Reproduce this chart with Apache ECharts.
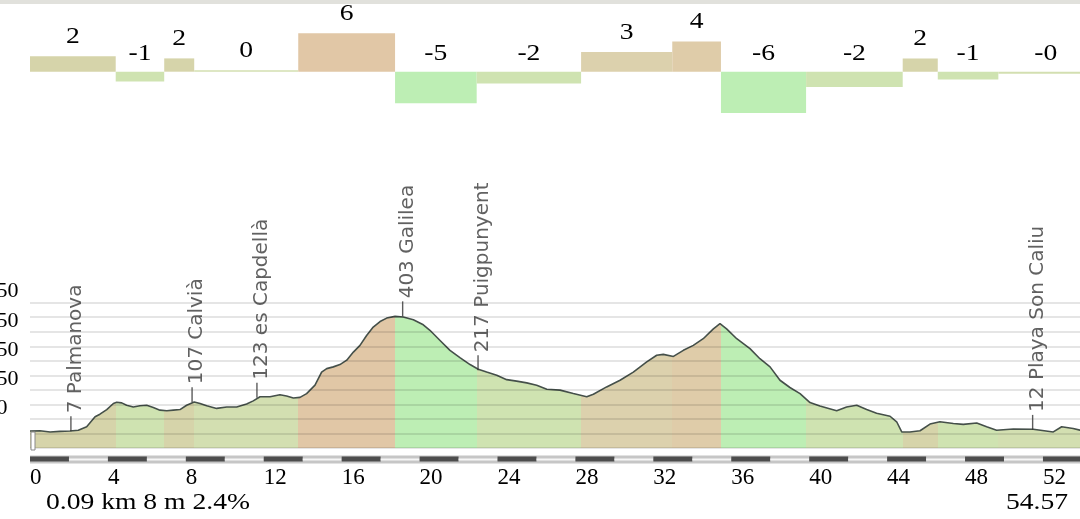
<!DOCTYPE html>
<html>
<head>
<meta charset="utf-8">
<script src="https://cdn.jsdelivr.net/npm/echarts@6/dist/echarts.min.js"></script>
<style>
  html, body { margin: 0; padding: 0; background: #fff; }
  #chart { width: 1080px; height: 519px; }
</style>
</head>
<body>
<div id="chart"></div>
<script>
// profile: distance (km) and elevation (m)
const dist = [0, 0.51, 1.03, 1.54, 2.05, 2.48, 2.91, 3.34, 3.59, 3.94, 4.28, 4.45, 4.71, 4.96, 5.30, 5.65, 5.99, 6.33, 6.67, 7.02,
  7.36, 7.70, 8.04, 8.43, 8.73, 9.07, 9.58, 10.10, 10.61, 11.12, 11.46, 11.81, 12.32, 12.83, 13.17, 13.52, 13.86, 14.20, 14.63, 14.97,
  15.23, 15.57, 15.91, 16.26, 16.60, 16.94, 17.28, 17.62, 17.97, 18.31, 18.74, 19.16, 19.68, 20.19, 20.53, 21.05, 21.56, 22.07, 22.59, 23.01,
  23.44, 23.96, 24.47, 24.98, 25.50, 26.01, 26.53, 27.21, 27.89, 28.58, 28.92, 29.60, 30.29, 30.97, 31.66, 32.17, 32.51, 33.03, 33.54, 34.05,
  34.56, 35.08, 35.42, 35.76, 36.28, 36.96, 37.47, 37.99, 38.50, 39.01, 39.53, 40.04, 40.55, 41.41, 41.92, 42.44, 42.95, 43.46, 44.15, 44.49,
  44.75, 45.17, 45.69, 46.20, 46.71, 47.40, 47.91, 48.60, 49.11, 49.62, 50.48, 51.50, 52.53, 52.96, 53.55, 53.90, 54.57];
const elev = [8, 9, 5, 7, 8, 11, 23, 57, 66, 82, 103, 107, 105, 97, 91, 95, 97, 89, 80, 78,
  80, 82, 97, 108, 103, 95, 86, 91, 91, 101, 112, 126, 126, 133, 129, 122, 124, 137, 166, 211,
  223, 229, 237, 252, 280, 303, 337, 366, 385, 397, 403, 401, 391, 374, 355, 320, 286, 261, 237, 221,
  211, 200, 185, 180, 174, 166, 152, 149, 137, 126, 135, 160, 183, 211, 246, 269, 272, 265, 286, 303,
  326, 360, 378, 360, 326, 292, 257, 229, 183, 158, 137, 106, 94, 78, 91, 97, 82, 69, 59, 40,
  5, 5, 9, 32, 40, 34, 31, 36, 23, 11, 15, 14, 5, 23, 17, 11, 9];

// gradient sections (km boundaries), slope in % and the printed labels
const segBounds = [0, 4.40, 6.89, 8.43, 13.77, 18.74, 22.93, 28.29, 32.97, 35.47, 39.84, 44.80, 46.60, 49.71, 54.57];
const grades = [2.2, -1.4, 1.9, 0.2, 5.5, -4.5, -1.7, 2.8, 4.3, -5.9, -2.2, 1.9, -1.1, -0.3];
const gradeLabels = ['2', '-1', '2', '0', '6', '-5', '-2', '3', '4', '-6', '-2', '2', '-1', '-0'];

// named places along the route
const placeKm = [2.10, 8.32, 11.65, 19.13, 23.0, 51.47];
const placeElev = [7, 107, 123, 403, 217, 12];
const placeNames = ['Palmanova', 'Calvià', 'es Capdellà', 'Galilea', 'Puigpunyent', 'Playa Son Caliu'];

// distance scale bar (2 km blocks)
const scaleStarts = [0, 2, 4, 6, 8, 10, 12, 14, 16, 18, 20, 22, 24, 26, 28, 30, 32, 34, 36, 38, 40, 42, 44, 46, 48, 50, 52, 54];
const scaleStep = 2;

const totalKm = 54.57;
const cursorText = '0.09 km 8 m 2.4%';

const LEFT = 30;
const PX_PER_KM = 19.48;
const WIDTH = totalKm * PX_PER_KM;
const serif = '"Liberation Serif", "Times New Roman", serif';

function gradeColor(g) {
  if (g <= -4) return '#bdeeb4';
  if (g <= -0.5) return '#cfe3b1';
  if (g < 0.5) return '#d3dfb1';
  if (g < 2.5) return '#d6d4aa';
  if (g < 4) return '#dcd1ad';
  if (g < 5) return '#dfcca9';
  return '#e1c7a6';
}

const segData = grades.map((g, i) => [segBounds[i], segBounds[i + 1], g]);
const pieces = grades.map((g, i) => {
  const p = { gte: segBounds[i], color: gradeColor(g) };
  if (i === grades.length - 1) p.lte = segBounds[i + 1];
  else p.lt = segBounds[i + 1];
  return p;
});

const chart = echarts.init(document.getElementById('chart'));

chart.setOption({
  animation: false,
  grid: [
    { left: LEFT, top: 22.7, width: WIDTH, height: 98, outerBoundsMode: 'none' },
    { left: LEFT, top: 302.7, width: WIDTH, height: 145.2, outerBoundsMode: 'none' },
    { left: LEFT, top: 455.5, width: WIDTH, height: 8, outerBoundsMode: 'none', show: true, backgroundColor: '#c6c6c6', borderWidth: 0 },
  ],
  xAxis: [
    { gridIndex: 0, type: 'value', min: 0, max: totalKm, show: false },
    { gridIndex: 1, type: 'value', min: 0, max: totalKm, show: false },
    {
      gridIndex: 2, type: 'value', min: 0, max: totalKm, interval: 4,
      axisLine: { show: false }, axisTick: { show: false }, splitLine: { show: false },
      axisLabel: {
        color: '#000', fontFamily: serif, fontSize: 23, align: 'left', verticalAlign: 'top', margin: 3,
        showMaxLabel: false,
      },
    },
  ],
  yAxis: [
    { gridIndex: 0, type: 'value', min: -7, max: 7, show: false },
    {
      gridIndex: 1, type: 'value', min: -50, max: 450, interval: 50, z: 3,
      axisLine: { show: false }, axisTick: { show: false },
      splitLine: { lineStyle: { color: 'rgba(0,0,0,0.1)', width: 2 } },
      axisLabel: {
        color: '#000', fontFamily: serif, fontSize: 22, align: 'left', verticalAlign: 'bottom', margin: 44.5,
        formatter: (v) => (v > 0 && v % 100 === 50 ? String(v) : ''),
      },
    },
    { gridIndex: 2, type: 'value', min: 0, max: 1, show: false },
  ],
  visualMap: {
    type: 'piecewise', show: false, seriesIndex: 1, dimension: 0, pieces: pieces,
  },
  series: [
    {
      type: 'custom',
      xAxisIndex: 0, yAxisIndex: 0,
      data: segData,
      encode: { x: [0, 1], y: 2 },
      renderItem: (params, api) => {
        const g = api.value(2);
        const p0 = api.coord([api.value(0), 0]);
        const p1 = api.coord([api.value(1), g]);
        const top = Math.min(p0[1], p1[1]);
        const h = Math.max(Math.abs(p1[1] - p0[1]), 1);
        const ly = g > 0 ? p1[1] - 8 : p0[1] - 6.7;
        return {
          type: 'group',
          children: [
            { type: 'rect', shape: { x: p0[0], y: top, width: p1[0] - p0[0], height: h }, style: { fill: gradeColor(g) } },
            {
              type: 'text', x: (p0[0] + p1[0]) / 2, y: ly, scaleX: 1.2,
              style: { text: gradeLabels[params.dataIndex], fill: '#000', font: '23px ' + serif, align: 'center', verticalAlign: 'bottom' },
            },
          ],
        };
      },
    },
    {
      type: 'line',
      xAxisIndex: 1, yAxisIndex: 1,
      data: dist.map((d, i) => [d, elev[i]]),
      showSymbol: false,
      lineStyle: { color: '#45504a', width: 1.6 },
      areaStyle: { opacity: 1, origin: 'start' },
      z: 2,
    },
    {
      type: 'scatter',
      xAxisIndex: 1, yAxisIndex: 1,
      data: placeKm.map((k, i) => [k, placeElev[i]]),
      symbol: 'rect',
      symbolSize: [1.4, 15],
      symbolOffset: [0, -7.5],
      itemStyle: { color: '#333' },
      z: 5,
      label: {
        show: true, position: 'top', distance: 3, rotate: 90,
        align: 'left', verticalAlign: 'middle', offset: [0, 5],
        fontFamily: '"DejaVu Sans", sans-serif', fontSize: 20, color: '#3a3a3a',
        formatter: (p) => placeElev[p.dataIndex] + ' ' + placeNames[p.dataIndex],
      },
    },
    {
      type: 'custom',
      xAxisIndex: 2, yAxisIndex: 2,
      data: scaleStarts.map((s) => [s, s + scaleStep]),
      encode: { x: [0, 1] },
      renderItem: (params, api) => {
        const a = api.coord([api.value(0), 1]);
        const b = api.coord([api.value(1), 0]);
        const dark = params.dataIndex % 2 === 0;
        return dark
          ? { type: 'rect', shape: { x: a[0], y: a[1] + 1, width: b[0] - a[0], height: 5 }, style: { fill: '#4d4d4d' } }
          : { type: 'rect', shape: { x: a[0], y: a[1] + 3, width: b[0] - a[0], height: 2 }, style: { fill: '#f6f6f6' } };
      },
    },
  ],
  graphic: [
    { type: 'rect', left: 0, top: 0, shape: { width: 1080, height: 4 }, style: { fill: '#e1e1dc' } },
    { type: 'rect', x: 31, y: 432, z: 10, shape: { width: 4, height: 18 }, style: { fill: '#fff', stroke: '#8a8a8a', lineWidth: 1 } },
    { type: 'text', x: 46, y: 491, scaleX: 1.2, style: { text: cursorText, fill: '#000', font: '23px ' + serif, align: 'left', verticalAlign: 'top' } },
    { type: 'text', x: 1068, y: 491, scaleX: 1.2, style: { text: String(totalKm), fill: '#000', font: '23px ' + serif, align: 'right', verticalAlign: 'top' } },
  ],
});
</script>
</body>
</html>
